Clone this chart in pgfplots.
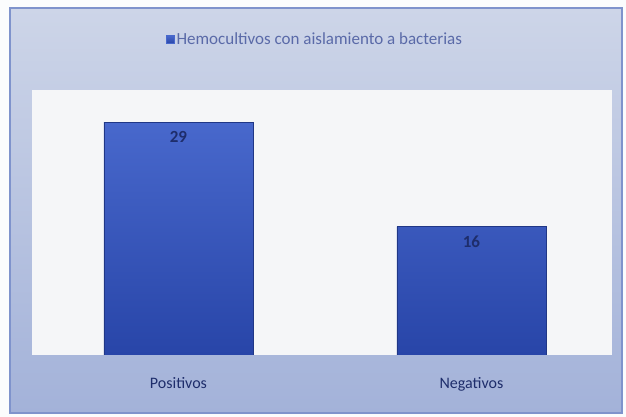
\documentclass[border=0pt]{standalone}
\usepackage{pgfplots}
\pgfplotsset{compat=1.18}
\usepackage{fontspec}
\setmainfont{Carlito}
\definecolor{frameTop}{HTML}{CDD5E8}
\definecolor{frameBot}{HTML}{A3B2D9}
\definecolor{frameLine}{HTML}{7F93CC}
\definecolor{plotBg}{HTML}{F5F6F8}
\definecolor{barTop}{HTML}{4868CC}
\definecolor{barBot}{HTML}{2845A8}
\definecolor{txt}{HTML}{1E2D6B}
\definecolor{legtxt}{HTML}{5A6AA8}
\begin{document}
\begin{tikzpicture}
\fill[color=white!92!frameTop] (0pt,0pt) rectangle (626pt,417pt);
\shade[top color=frameTop, bottom color=frameBot, draw=frameLine, line width=1.5pt] (10pt,4pt) rectangle (622pt,409pt);
\begin{axis}[
  at={(32pt,62pt)}, anchor=south west,
  scale only axis, width=580pt, height=265pt,
  xmin=-0.5, xmax=1.48, ymin=0, ymax=33,
  axis background/.style={fill=plotBg},
  axis line style={draw=none},
  hide y axis,
  xtick=data, xticklabels={Positivos, Negativos},
  major tick length=0pt,
  xticklabel style={font=\fontsize{16}{18}\selectfont, text=txt, yshift=-19pt},
  /pgf/number format/assume math mode=true,
  ybar, bar width=149pt,
  nodes near coords,
  every node near coord/.append style={anchor=north, yshift=-6pt, font=\fontsize{17}{19}\selectfont\bfseries, text=txt},
  legend style={at={(0.488,1.19)}, anchor=center, draw=none, fill=none,
    font=\fontsize{17}{19}\selectfont, text=legtxt},
  legend image code/.code={\fill[barTop] (0pt,-4pt) rectangle (8pt,4pt);},
]
\addplot[draw=barBot!80!black, line width=0.6pt, top color=barTop, bottom color=barBot] coordinates {(0,29) (1,16)};
\addlegendentry{Hemocultivos con aislamiento a bacterias}
\end{axis}
\end{tikzpicture}
\end{document}
